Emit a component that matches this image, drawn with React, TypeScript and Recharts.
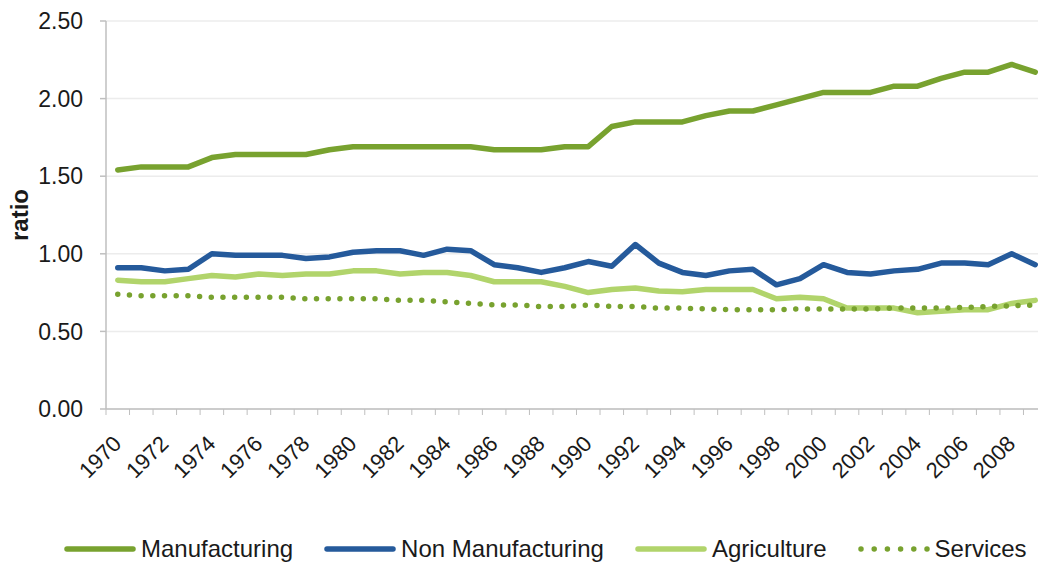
import { LineChart, Line, XAxis, YAxis, CartesianGrid, Label } from 'recharts'

const years = [
  '1970', '1971', '1972', '1973', '1974', '1975', '1976', '1977', '1978', '1979',
  '1980', '1981', '1982', '1983', '1984', '1985', '1986', '1987', '1988', '1989',
  '1990', '1991', '1992', '1993', '1994', '1995', '1996', '1997', '1998', '1999',
  '2000', '2001', '2002', '2003', '2004', '2005', '2006', '2007', '2008', '2009',
]

const manufacturing = [
  1.54, 1.56, 1.56, 1.56, 1.62, 1.64, 1.64, 1.64, 1.64, 1.67,
  1.69, 1.69, 1.69, 1.69, 1.69, 1.69, 1.67, 1.67, 1.67, 1.69,
  1.69, 1.82, 1.85, 1.85, 1.85, 1.89, 1.92, 1.92, 1.96, 2.0,
  2.04, 2.04, 2.04, 2.08, 2.08, 2.13, 2.17, 2.17, 2.22, 2.17,
]

const nonManufacturing = [
  0.91, 0.91, 0.89, 0.9, 1.0, 0.99, 0.99, 0.99, 0.97, 0.98,
  1.01, 1.02, 1.02, 0.99, 1.03, 1.02, 0.93, 0.91, 0.88, 0.91,
  0.95, 0.92, 1.06, 0.94, 0.88, 0.86, 0.89, 0.9, 0.8, 0.84,
  0.93, 0.88, 0.87, 0.89, 0.9, 0.94, 0.94, 0.93, 1.0, 0.93,
]

const agriculture = [
  0.83, 0.82, 0.82, 0.84, 0.86, 0.85, 0.87, 0.86, 0.87, 0.87,
  0.89, 0.89, 0.87, 0.88, 0.88, 0.86, 0.82, 0.82, 0.82, 0.79,
  0.75, 0.77, 0.78, 0.76, 0.755, 0.77, 0.77, 0.77, 0.71, 0.72,
  0.71, 0.65, 0.65, 0.65, 0.62, 0.63, 0.64, 0.64, 0.68, 0.7,
]

const services = [
  0.74, 0.73, 0.73, 0.73, 0.72, 0.72, 0.72, 0.72, 0.71, 0.71,
  0.71, 0.71, 0.7, 0.7, 0.69, 0.68, 0.67, 0.67, 0.66, 0.66,
  0.67, 0.66, 0.66, 0.65, 0.65, 0.645, 0.64, 0.64, 0.64, 0.645,
  0.645, 0.645, 0.645, 0.65, 0.65, 0.65, 0.655, 0.66, 0.665, 0.67,
]

const yTicks = [0, 0.5, 1, 1.5, 2, 2.5]

const series = [
  { key: 'manufacturing', name: 'Manufacturing', color: '#78a22f', dotted: false },
  { key: 'nonManufacturing', name: 'Non Manufacturing', color: '#255a9b', dotted: false },
  { key: 'agriculture', name: 'Agriculture', color: '#b1d46b', dotted: false },
  { key: 'services', name: 'Services', color: '#78a22f', dotted: true },
]

const data = years.map((year, i) => ({
  year,
  manufacturing: manufacturing[i],
  nonManufacturing: nonManufacturing[i],
  agriculture: agriculture[i],
  services: services[i],
}))

// chart is a bit wider than the window: the last category is cut off like in the source
const CHART_W = 1060
const CHART_H = 562
const MARGIN = { top: 21, right: 13, bottom: 73, left: 0 }
const Y_AXIS_W = 106
const X_AXIS_H = 80
const PLOT_W = CHART_W - MARGIN.left - MARGIN.right - Y_AXIS_W
const HALF_BAND = PLOT_W / years.length / 2

const FONT = '"Liberation Sans", Arial, sans-serif'
const TEXT = '#1a1a1a'
const AXIS = '#bfbfbf'

function YearTick(props: any) {
  const { x, y, payload, index } = props
  const tx = x + 5
  const ty = y + 36
  return (
    <g>
      <line x1={x - HALF_BAND} y1={y} x2={x - HALF_BAND} y2={y + 6} stroke={AXIS} />
      {index % 2 === 0 && (
        <text
          x={tx}
          y={ty}
          transform={`rotate(-45, ${tx}, ${ty})`}
          textAnchor="end"
          fill={TEXT}
          style={{ fontSize: 22, fontFamily: FONT }}
        >
          {payload.value}
        </text>
      )}
    </g>
  )
}

function RatioLabel(props: any) {
  const vb = props.viewBox || { x: 0, y: 0, height: 0 }
  const cx = vb.x + 19
  const cy = vb.y + vb.height / 2
  return (
    <text
      x={cx}
      y={cy}
      transform={`rotate(-90, ${cx}, ${cy})`}
      textAnchor="middle"
      dominantBaseline="central"
      fill={TEXT}
      style={{ fontSize: 24, fontWeight: 'bold', fontFamily: FONT }}
    >
      ratio
    </text>
  )
}

function LegendSample({ color, dotted }: { color: string; dotted: boolean }) {
  return (
    <svg width={72} height={10} style={{ display: 'block', flexShrink: 0 }}>
      <line
        x1={3}
        y1={5}
        x2={69}
        y2={5}
        stroke={color}
        strokeWidth={5.5}
        strokeLinecap="round"
        strokeDasharray={dotted ? '0 13.2' : undefined}
      />
    </svg>
  )
}

export default function App() {
  return (
    <div
      style={{
        position: 'absolute',
        left: 0,
        top: 0,
        width: 1038,
        height: 562,
        overflow: 'hidden',
        background: '#ffffff',
        fontFamily: FONT,
      }}
    >
      <LineChart width={CHART_W} height={CHART_H} data={data} margin={MARGIN}>
        <CartesianGrid vertical={false} stroke="#ececec" strokeWidth={1.5} />
        <XAxis
          dataKey="year"
          height={X_AXIS_H}
          interval={0}
          padding={{ left: HALF_BAND, right: HALF_BAND }}
          tickSize={0}
          tickMargin={0}
          tickLine={false}
          axisLine={{ stroke: AXIS, strokeWidth: 1.5 }}
          tick={<YearTick />}
        />
        <YAxis
          width={Y_AXIS_W}
          domain={[0, 2.5]}
          ticks={yTicks}
          tickFormatter={(v: number) => v.toFixed(2)}
          tick={{ fontSize: 23, fill: TEXT, fontFamily: FONT }}
          tickSize={6}
          tickMargin={17}
          tickLine={{ stroke: AXIS, strokeWidth: 1.5 }}
          axisLine={{ stroke: AXIS, strokeWidth: 1.5 }}
        >
          <Label content={<RatioLabel />} />
        </YAxis>
        {series.map((s) => (
          <Line
            key={s.key}
            type="linear"
            dataKey={s.key}
            name={s.name}
            stroke={s.color}
            strokeWidth={5.5}
            strokeLinejoin="round"
            strokeLinecap="round"
            strokeDasharray={s.dotted ? '0 11.7' : undefined}
            dot={false}
            activeDot={false}
            isAnimationActive={false}
          />
        ))}
      </LineChart>
      <div
        style={{
          position: 'absolute',
          left: 64,
          top: 534,
          width: 1000,
          height: 30,
          display: 'flex',
          alignItems: 'center',
          fontSize: 24,
          color: TEXT,
          whiteSpace: 'nowrap',
        }}
      >
        {series.map((s) => (
          <div
            key={s.key}
            style={{ display: 'flex', alignItems: 'center', marginRight: 31, flexShrink: 0 }}
          >
            <LegendSample color={s.color} dotted={s.dotted} />
            <span style={{ marginLeft: 5 }}>{s.name}</span>
          </div>
        ))}
      </div>
    </div>
  )
}
